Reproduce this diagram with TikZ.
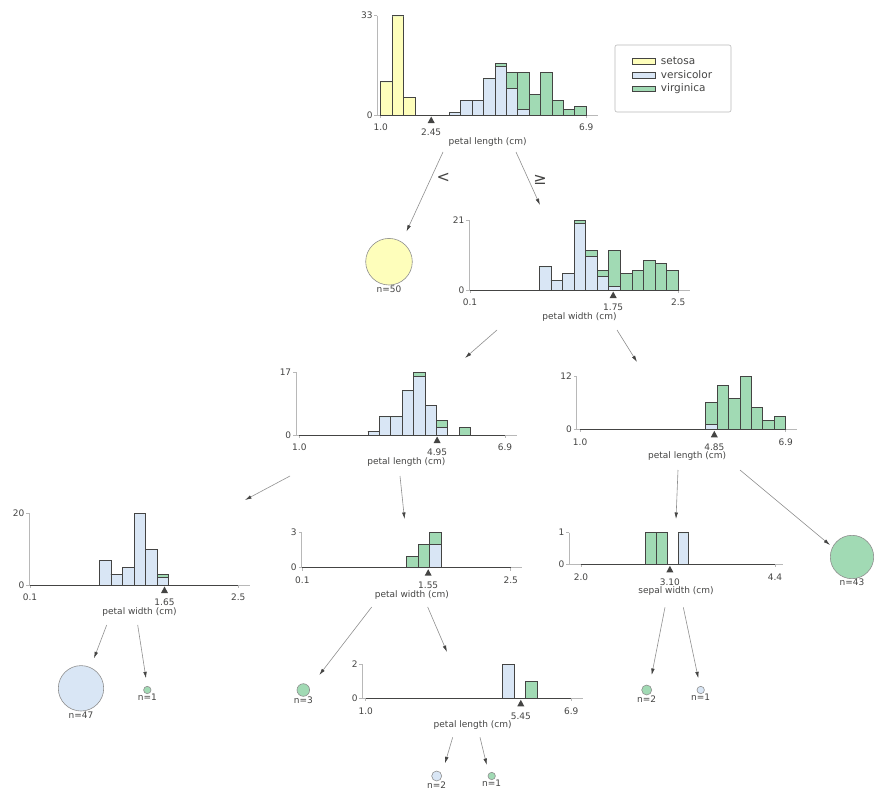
\documentclass[tikz,border=0pt]{standalone}
\usepackage{fontspec}
\setmainfont{DejaVu Sans}
\usetikzlibrary{arrows.meta}

\definecolor{setosa}{HTML}{FEFEBB}
\definecolor{versicolor}{HTML}{D9E6F5}
\definecolor{virginica}{HTML}{A1DAB4}
\definecolor{edgegray}{HTML}{444443}
\definecolor{spinegray}{HTML}{B8B8B8}
\definecolor{arrowgray}{HTML}{8F8F8F}

\tikzset{
  histbar/.style={draw=edgegray, line width=0.8pt},
  spine/.style={draw=spinegray, line width=0.6pt},
  ticklbl/.style={font=\fontsize{9}{11}\selectfont, text=edgegray, inner sep=0pt},
  axlbl/.style={font=\fontsize{9}{11}\selectfont, text=edgegray, inner sep=0pt, anchor=base},
  splitmark/.style={fill=edgegray},
  leafnode/.style={circle, draw=arrowgray, line width=0.6pt, inner sep=0pt,
    label distance=1.5pt},
  leaflbl/.style={font=\fontsize{9}{11}\selectfont, text=edgegray, inner sep=0pt},
  treearrow/.style={draw=arrowgray, line width=0.6pt,
    -{Latex[length=6.5pt,width=3.6pt,color=edgegray]}},
  cmplbl/.style={font=\fontsize{16}{18}\selectfont, text=edgegray, inner sep=0pt}
}

\begin{document}
\begin{tikzpicture}[x=1pt,y=-1pt]
\useasboundingbox (0,0) rectangle (886,792);

% root: petal length
\begin{scope}[shift={(380.7,115)},yscale=-1]
\def\bw{11.42}\def\u{3.01}
\draw[spine] (-3.4,{33*\u}) -- (-3.4,0) -- (217.3,0);
\draw[spine] (-3.4,0) -- ++(-3,0) (-3.4,{33*\u}) -- ++(-3,0) (0,0) -- ++(0,-3) (205.6,0) -- ++(0,-3);
\draw[histbar] (0,0) -- (205.6,0);
\foreach \i/\a/\b/\c in {0/11/0/0,1/33/0/0,2/6/0/0,6/0/1/0,7/0/5/0,8/0/5/0,9/0/12/0,10/0/16/1,
  11/0/9/5,12/0/2/12,13/0/0/7,14/0/0/14,15/0/0/5,16/0/0/2,17/0/0/3}
{\draw[histbar,fill=setosa] ({\i*\bw},0) rectangle ++(\bw,{\a*\u});
 \draw[histbar,fill=versicolor] ({\i*\bw},{\a*\u}) rectangle ++(\bw,{\b*\u});
 \draw[histbar,fill=virginica] ({\i*\bw},{(\a+\b)*\u}) rectangle ++(\bw,{\c*\u});}
\fill[splitmark] (50.5,-1.5) -- ++(-3.5,-6.5) -- ++(7,0) -- cycle;
\node[ticklbl,anchor=east] (h1y0) at (-8,0) {0};
\node[ticklbl,anchor=east] (h1y1) at (-8,{33*\u}) {33};
\node[ticklbl] (h1x0) at (0,-12.5) {1.0};
\node[ticklbl] (h1x1) at (205.6,-12.5) {6.9};
\node[ticklbl] (h1s) at (50.5,-17.5) {2.45};
\node[axlbl] (h1t) at (107,-29.5) {petal length (cm)};
\end{scope}

% legend
\draw[draw=spinegray, line width=0.6pt, rounded corners=2pt] (615,45) rectangle (731,112);
\foreach \y/\cl in {61.2/setosa,75/versicolor,88.8/virginica}
{\draw[histbar, line width=0.5pt, fill=\cl] (632.7,\y-2.8) rectangle (655.3,\y+2.8);
 \node[ticklbl,anchor=west,font=\fontsize{10.5}{12}\selectfont] (lg-\cl) at (660.7,\y) {\cl};}

% petal width
\begin{scope}[shift={(470,290)},yscale=-1]
\def\bw{11.57}\def\u{3.333}
\draw[spine] (-0.7,{21*\u}) -- (-0.7,0) -- (220,0);
\draw[spine] (-0.7,0) -- ++(-3,0) (-0.7,{21*\u}) -- ++(-3,0) (0,0) -- ++(0,-3) (208.3,0) -- ++(0,-3);
\draw[histbar] (0,0) -- (208.3,0);
\foreach \i/\a/\b/\c in {6/0/7/0,7/0/3/0,8/0/5/0,9/0/20/1,10/0/10/2,11/0/4/2,12/0/1/11,
  13/0/0/5,14/0/0/6,15/0/0/9,16/0/0/8,17/0/0/6}
{\draw[histbar,fill=versicolor] ({\i*\bw},0) rectangle ++(\bw,{\b*\u});
 \draw[histbar,fill=virginica] ({\i*\bw},{\b*\u}) rectangle ++(\bw,{\c*\u});}
\fill[splitmark] (143.2,-1.5) -- ++(-3.5,-6.5) -- ++(7,0) -- cycle;
\node[ticklbl,anchor=east] (h2y0) at (-5.5,0) {0};
\node[ticklbl,anchor=east] (h2y1) at (-5.5,{21*\u}) {21};
\node[ticklbl] (h2x0) at (0,-12.5) {0.1};
\node[ticklbl] (h2x1) at (208.3,-12.5) {2.5};
\node[ticklbl] (h2s) at (143.2,-17.5) {1.75};
\node[axlbl] (h2t) at (109.5,-29.5) {petal width (cm)};
\end{scope}

% petal length, left
\begin{scope}[shift={(299.4,435)},yscale=-1]
\def\bw{11.42}\def\u{3.69}
\draw[spine] (-3.4,{17*\u}) -- (-3.4,0) -- (217.3,0);
\draw[spine] (-3.4,0) -- ++(-3,0) (-3.4,{17*\u}) -- ++(-3,0) (0,0) -- ++(0,-3) (205.6,0) -- ++(0,-3);
\draw[histbar] (0,0) -- (205.6,0);
\foreach \i/\a/\b/\c in {6/0/1/0,7/0/5/0,8/0/5/0,9/0/12/0,10/0/16/1,11/0/8/0,12/0/2/2,14/0/0/2}
{\draw[histbar,fill=versicolor] ({\i*\bw},0) rectangle ++(\bw,{\b*\u});
 \draw[histbar,fill=virginica] ({\i*\bw},{\b*\u}) rectangle ++(\bw,{\c*\u});}
\fill[splitmark] (137.7,-1.5) -- ++(-3.5,-6.5) -- ++(7,0) -- cycle;
\node[ticklbl,anchor=east] (h3y0) at (-8,0) {0};
\node[ticklbl,anchor=east] (h3y1) at (-8,{17*\u}) {17};
\node[ticklbl] (h3x0) at (0,-12.5) {1.0};
\node[ticklbl] (h3x1) at (205.6,-12.5) {6.9};
\node[ticklbl] (h3s) at (137.7,-17.5) {4.95};
\node[axlbl] (h3t) at (107,-29.5) {petal length (cm)};
\end{scope}

% petal length, right
\begin{scope}[shift={(580.1,429.3)},yscale=-1]
\def\bw{11.42}\def\u{4.44}
\draw[spine] (-3.4,{12*\u}) -- (-3.4,0) -- (217.3,0);
\draw[spine] (-3.4,0) -- ++(-3,0) (-3.4,{12*\u}) -- ++(-3,0) (0,0) -- ++(0,-3) (205.6,0) -- ++(0,-3);
\draw[histbar] (0,0) -- (205.6,0);
\foreach \i/\a/\b/\c in {11/0/1/5,12/0/0/10,13/0/0/7,14/0/0/12,15/0/0/5,16/0/0/2,17/0/0/3}
{\draw[histbar,fill=versicolor] ({\i*\bw},0) rectangle ++(\bw,{\b*\u});
 \draw[histbar,fill=virginica] ({\i*\bw},{\b*\u}) rectangle ++(\bw,{\c*\u});}
\fill[splitmark] (134.2,-1.5) -- ++(-3.5,-6.5) -- ++(7,0) -- cycle;
\node[ticklbl,anchor=east] (h4y0) at (-8,0) {0};
\node[ticklbl,anchor=east] (h4y1) at (-8,{12*\u}) {12};
\node[ticklbl] (h4x0) at (0,-12.5) {1.0};
\node[ticklbl] (h4x1) at (205.6,-12.5) {6.9};
\node[ticklbl] (h4s) at (134.2,-17.5) {4.85};
\node[axlbl] (h4t) at (107,-29.5) {petal length (cm)};
\end{scope}

% petal width, left
\begin{scope}[shift={(30,585)},yscale=-1]
\def\bw{11.57}\def\u{3.58}
\draw[spine] (-0.7,{20*\u}) -- (-0.7,0) -- (220,0);
\draw[spine] (-0.7,0) -- ++(-3,0) (-0.7,{20*\u}) -- ++(-3,0) (0,0) -- ++(0,-3) (208.3,0) -- ++(0,-3);
\draw[histbar] (0,0) -- (208.3,0);
\foreach \i/\a/\b/\c in {6/0/7/0,7/0/3/0,8/0/5/0,9/0/20/0,10/0/10/0,11/0/2/1}
{\draw[histbar,fill=versicolor] ({\i*\bw},0) rectangle ++(\bw,{\b*\u});
 \draw[histbar,fill=virginica] ({\i*\bw},{\b*\u}) rectangle ++(\bw,{\c*\u});}
\fill[splitmark] (134.5,-1.5) -- ++(-3.5,-6.5) -- ++(7,0) -- cycle;
\node[ticklbl,anchor=east] (h5y0) at (-5.5,0) {0};
\node[ticklbl,anchor=east] (h5y1) at (-5.5,{20*\u}) {20};
\node[ticklbl] (h5x0) at (0,-12.5) {0.1};
\node[ticklbl] (h5x1) at (208.3,-12.5) {2.5};
\node[ticklbl] (h5s) at (134.5,-17.5) {1.65};
\node[axlbl] (h5t) at (109.5,-29.5) {petal width (cm)};
\end{scope}

% petal width, middle
\begin{scope}[shift={(302.4,567.7)},yscale=-1]
\def\bw{11.57}\def\u{11.78}
\draw[spine] (-0.7,{3*\u}) -- (-0.7,0) -- (220,0);
\draw[spine] (-0.7,0) -- ++(-3,0) (-0.7,{3*\u}) -- ++(-3,0) (0,0) -- ++(0,-3) (208.3,0) -- ++(0,-3);
\draw[histbar] (0,0) -- (208.3,0);
\foreach \i/\a/\b/\c in {9/0/0/1,10/0/0/2,11/0/2/1}
{\draw[histbar,fill=versicolor] ({\i*\bw},0) rectangle ++(\bw,{\b*\u});
 \draw[histbar,fill=virginica] ({\i*\bw},{\b*\u}) rectangle ++(\bw,{\c*\u});}
\fill[splitmark] (125.8,-1.5) -- ++(-3.5,-6.5) -- ++(7,0) -- cycle;
\node[ticklbl,anchor=east] (h6y0) at (-5.5,0) {0};
\node[ticklbl,anchor=east] (h6y1) at (-5.5,{3*\u}) {3};
\node[ticklbl] (h6x0) at (0,-12.5) {0.1};
\node[ticklbl] (h6x1) at (208.3,-12.5) {2.5};
\node[ticklbl] (h6s) at (125.8,-17.5) {1.55};
\node[axlbl] (h6t) at (109.5,-29.5) {petal width (cm)};
\end{scope}

% sepal width
\begin{scope}[shift={(581,564.3)},yscale=-1]
\def\bw{10.78}\def\u{31.7}
\draw[spine] (-11.7,{1*\u}) -- (-11.7,0) -- (202,0);
\draw[spine] (-11.7,0) -- ++(-3,0) (-11.7,{1*\u}) -- ++(-3,0) (0,0) -- ++(0,-3) (194,0) -- ++(0,-3);
\draw[histbar] (0,0) -- (194,0);
\foreach \i/\a/\b/\c in {6/0/0/1,7/0/0/1,9/0/1/0}
{\draw[histbar,fill=versicolor] ({\i*\bw},0) rectangle ++(\bw,{\b*\u});
 \draw[histbar,fill=virginica] ({\i*\bw},{\b*\u}) rectangle ++(\bw,{\c*\u});}
\fill[splitmark] (88.9,-1.5) -- ++(-3.5,-6.5) -- ++(7,0) -- cycle;
\node[ticklbl,anchor=east] (h7y0) at (-16.5,0) {0};
\node[ticklbl,anchor=east] (h7y1) at (-16.5,{1*\u}) {1};
\node[ticklbl] (h7x0) at (0,-12.5) {2.0};
\node[ticklbl] (h7x1) at (194,-12.5) {4.4};
\node[ticklbl] (h7s) at (88.9,-17.5) {3.10};
\node[axlbl] (h7t) at (95,-29.5) {sepal width (cm)};
\end{scope}

% petal length, bottom
\begin{scope}[shift={(365.7,698.3)},yscale=-1]
\def\bw{11.42}\def\u{17.17}
\draw[spine] (-3.4,{2*\u}) -- (-3.4,0) -- (217.3,0);
\draw[spine] (-3.4,0) -- ++(-3,0) (-3.4,{2*\u}) -- ++(-3,0) (0,0) -- ++(0,-3) (205.6,0) -- ++(0,-3);
\draw[histbar] (0,0) -- (205.6,0);
\foreach \i/\a/\b/\c in {12/0/2/0,14/0/0/1}
{\draw[histbar,fill=versicolor] ({\i*\bw},0) rectangle ++(\bw,{\b*\u});
 \draw[histbar,fill=virginica] ({\i*\bw},{\b*\u}) rectangle ++(\bw,{\c*\u});}
\fill[splitmark] (155.1,-1.5) -- ++(-3.5,-6.5) -- ++(7,0) -- cycle;
\node[ticklbl,anchor=east] (h8y0) at (-8,0) {0};
\node[ticklbl,anchor=east] (h8y1) at (-8,{2*\u}) {2};
\node[ticklbl] (h8x0) at (0,-12.5) {1.0};
\node[ticklbl] (h8x1) at (205.6,-12.5) {6.9};
\node[ticklbl] (h8s) at (155.1,-17.5) {5.45};
\node[axlbl] (h8t) at (107,-29.5) {petal length (cm)};
\end{scope}

% leaves
\node[leafnode, fill=setosa, minimum size=46.6pt, label={[leaflbl]below:n=50}] (leaf50) at (389,261.7) {};
\node[leafnode, fill=versicolor, minimum size=45.4pt, label={[leaflbl]below:n=47}] (leaf47) at (81,688.3) {};
\node[leafnode, fill=virginica, minimum size=7.4pt, label={[leaflbl]below:n=1}] (leaf1a) at (147.3,690) {};
\node[leafnode, fill=virginica, minimum size=12.6pt, label={[leaflbl]below:n=3}] (leaf3) at (303.3,690) {};
\node[leafnode, fill=versicolor, minimum size=10pt, label={[leaflbl]below:n=2}] (leaf2a) at (436.7,776) {};
\node[leafnode, fill=virginica, minimum size=7.4pt, label={[leaflbl]below:n=1}] (leaf1b) at (491.7,776) {};
\node[leafnode, fill=virginica, minimum size=10pt, label={[leaflbl]below:n=2}] (leaf2b) at (646.7,690) {};
\node[leafnode, fill=versicolor, minimum size=7.4pt, label={[leaflbl]below:n=1}] (leaf1c) at (700.7,690) {};
\node[leafnode, fill=virginica, minimum size=43.4pt, label={[leaflbl]below:n=43}] (leaf43) at (852,557) {};

% connector ends
\coordinate (rootL) at (443,152);   \coordinate (leaf50in) at (406.5,231.5);
\coordinate (rootR) at (516,152);   \coordinate (pwin) at (540,205);
\coordinate (pwL) at (497,330);     \coordinate (plLin) at (465,358);
\coordinate (pwR) at (617,330);     \coordinate (plRin) at (637,362);
\coordinate (plLL) at (290,476);    \coordinate (pwLin) at (245,500);
\coordinate (plLR) at (400,476);    \coordinate (pwMin) at (404.5,519);
\coordinate (plRL) at (678,470);    \coordinate (swin) at (676,519);
\coordinate (plRR) at (740,470);    \coordinate (leaf43in) at (830,545);
\coordinate (pwLL) at (106.7,625);  \coordinate (leaf47in) at (94,658.3);
\coordinate (pwLR) at (137.7,625);  \coordinate (leaf1ain) at (146,678.3);
\coordinate (pwML) at (371.7,607);  \coordinate (leaf3in) at (319.3,675);
\coordinate (pwMR) at (427.7,607);  \coordinate (plBin) at (447,652);
\coordinate (swL) at (665,607.3);   \coordinate (leaf2bin) at (651.7,675);
\coordinate (swR) at (683.3,607.3); \coordinate (leaf1cin) at (698.3,678.3);
\coordinate (plBL) at (452.7,737.3); \coordinate (leaf2ain) at (445,763.3);
\coordinate (plBR) at (480,737.3);  \coordinate (leaf1bin) at (486.7,765);

\foreach \s/\e in {rootL/leaf50in,rootR/pwin,pwL/plLin,pwR/plRin,plLL/pwLin,plLR/pwMin,
  plRL/swin,plRR/leaf43in,pwLL/leaf47in,pwLR/leaf1ain,pwML/leaf3in,pwMR/plBin,
  swL/leaf2bin,swR/leaf1cin,plBL/leaf2ain,plBR/leaf1bin}
  \draw[treearrow] (\s) -- (\e);

\node[cmplbl] (lt) at (443.3,178.3) {<};
\node[cmplbl] (ge) at (540,180) {≥};

\end{tikzpicture}
\end{document}
